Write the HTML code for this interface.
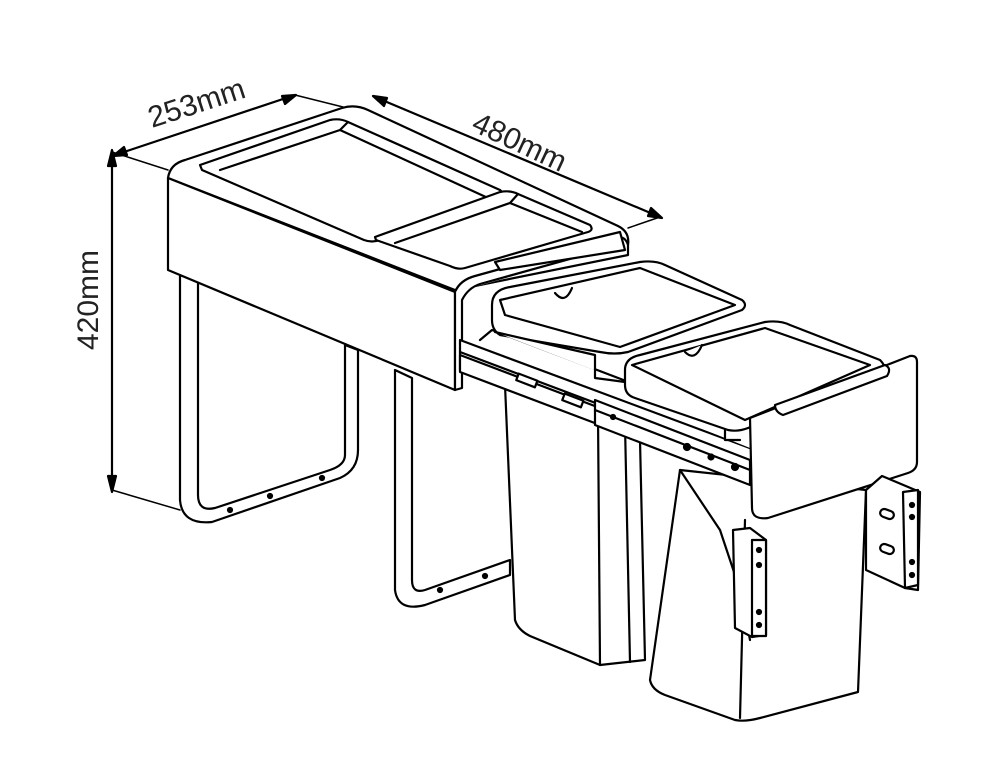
<!DOCTYPE html>
<html><head><meta charset="utf-8"><style>
html,body{margin:0;padding:0;background:#fff;}
svg{display:block;}
text{font-family:"Liberation Sans",sans-serif;fill:#222;font-size:30px;}
</style></head><body>
<svg width="997" height="768" viewBox="0 0 997 768" xmlns="http://www.w3.org/2000/svg">
<g fill="#fff" stroke="#000" stroke-width="2.2" stroke-linejoin="round" stroke-linecap="round">
<!-- dimension lines -->
<line x1="112" y1="152" x2="112" y2="490"/>
<polygon points="112,150 108,166 116,166" fill="#000"/>
<polygon points="112,492 108,476 116,476" fill="#000"/>
<line x1="112" y1="152" x2="168" y2="170" stroke-width="1.5"/>
<line x1="112" y1="490" x2="180" y2="510" stroke-width="1.5"/>
<line x1="115" y1="155" x2="295" y2="95"/>
<polygon points="296,95 282,96 285,104" fill="#000"/>
<polygon points="113,156 127,155 124,147" fill="#000"/>
<line x1="375" y1="97" x2="660" y2="217"/>
<polygon points="373,96 387,98 384,106" fill="#000"/>
<polygon points="662,218 648,216 651,208" fill="#000"/>
<line x1="295" y1="95" x2="355" y2="110" stroke-width="1.5"/>
<line x1="628" y1="228" x2="660" y2="217" stroke-width="1.5"/>

<!-- left frame -->
<path d="M180 275 L180 500 Q182 525 212 522 L340 478 Q358 470 358 450 L358 350 L345 345 L345 455 Q345 465 330 470 L215 508 Q198 512 198 495 L198 282 Z"/>
<circle cx="230" cy="510" r="2" fill="#000"/><circle cx="270" cy="496" r="2" fill="#000"/><circle cx="322" cy="478" r="2" fill="#000"/>
<!-- middle frame -->
<path d="M395 370 L395 590 Q398 612 425 605 L510 575 L510 560 L425 590 Q412 594 412 580 L412 378 Z"/>
<circle cx="440" cy="590" r="2" fill="#000"/><circle cx="485" cy="576" r="2" fill="#000"/>

<!-- top cabinet -->
<path d="M168 178 Q170 164 185 160 L342 108 Q355 104 368 110 L618 226 Q630 232 628 245 L628 255 L455 290 Z"/>
<path d="M168 178 L455 292 L455 390 L168 270 Z"/>
<path d="M455 292 Q460 280 475 276 L612 238 Q625 234 628 245"/>
<path d="M455 292 L455 390 L462 388 L462 300 Q468 288 480 284 L620 245"/>
<!-- trays -->
<path d="M200 165 L330 120 Q340 118 348 122 L500 190 Q505 194 498 197 L380 240 Q372 243 364 240 L202 170 Z"/>
<path d="M220 170 L340 130 L348 122 M340 130 L488 198"/>
<path d="M375 237 L500 192 Q510 190 518 194 L590 225 Q594 230 588 232 L465 268 Q458 270 450 266 L376 240 Z"/>
<path d="M395 243 L510 203 L518 194 M510 203 L582 232"/>
<path d="M495 262 L620 232 L625 250 L500 270 Z"/>

<!-- rails -->
<path d="M460 340 L755 450 L755 480 L460 370 Z"/>
<path d="M460 352 L755 463"/>
<path d="M480 340 L492 330 L760 432 L755 450"/>

<!-- bin 1 body -->
<path d="M505 385 L515 620 Q518 630 530 636 L600 665 L645 660 L640 440 L600 410 Z"/>
<path d="M598 415 L600 665 M625 425 L630 662"/>
<!-- bin 1 lid -->
<path d="M492 305 Q492 290 510 287 L640 262 Q655 260 665 265 L742 300 Q748 305 742 310 L628 352 Q615 355 600 352 L500 335 Q492 330 492 320 Z"/>
<path d="M500 300 L640 268 L735 305 L620 347 L505 315 Z"/>
<path d="M495 332 L595 355 L595 378 L625 382"/>
<path d="M555 293 Q565 305 572 288" />
<!-- rail segment over bin1 -->
<path d="M460 355 L600 408 L600 425 L460 372 Z"/>
<rect x="517" y="377" width="20" height="7" transform="rotate(21 527 380)"/>
<rect x="563" y="397" width="20" height="7" transform="rotate(21 573 400)"/>

<!-- bin 2 body -->
<path d="M680 470 L650 680 Q652 690 665 695 L735 720 Q745 722 760 718 L858 692 L866 490 Z"/>
<path d="M680 470 L720 530 L740 590 L750 640 M745 520 L740 718"/>
<!-- bin 2 lid -->
<path d="M625 370 Q625 358 640 355 L765 322 Q780 320 790 325 L880 360 Q888 368 880 372 L748 428 Q738 432 728 430 L635 398 Q625 395 625 385 Z"/>
<path d="M632 365 L765 328 L870 365 L745 420 Z"/>
<path d="M685 352 Q695 362 702 345"/>
<path d="M725 430 L725 440 L740 440"/>
<!-- rail front -->
<path d="M595 400 L750 460 L750 485 L595 425 Z"/>
<path d="M595 410 L750 470"/>
<circle cx="687" cy="447" r="3" fill="#000"/><circle cx="711" cy="457" r="2.5" fill="#000"/><circle cx="735" cy="467" r="3" fill="#000"/><circle cx="613" cy="417" r="2" fill="#000"/>
<!-- front panel -->
<path d="M750 418 L910 356 Q917 355 917 362 L917 462 Q917 470 908 473 L768 518 Q752 520 752 508 Z"/>
<path d="M775 405 L885 365 Q892 368 887 376 L783 415 Q775 412 775 405 Z"/>
<!-- brackets -->
<path d="M866 490 L866 570 L905 588 L918 590 L920 492 L882 476 Z"/>
<path d="M903 492 L918 490 L918 585 L905 588 Z"/>
<rect x="880" y="510" width="14" height="8" rx="4" transform="rotate(20 887 514)"/>
<rect x="880" y="545" width="14" height="8" rx="4" transform="rotate(20 887 549)"/>
<circle cx="912" cy="505" r="2" fill="#000"/><circle cx="912" cy="517" r="2" fill="#000"/><circle cx="912" cy="562" r="2" fill="#000"/><circle cx="912" cy="575" r="2" fill="#000"/>
<path d="M733 530 L750 528 L766 540 L766 635 L752 637 L735 628 Z"/>
<path d="M752 540 L766 540 L766 636 L752 636 Z"/>
<circle cx="759" cy="550" r="2" fill="#000"/><circle cx="759" cy="565" r="2" fill="#000"/><circle cx="759" cy="612" r="2" fill="#000"/><circle cx="759" cy="625" r="2" fill="#000"/>
</g>
<text transform="translate(98,350) rotate(-90)">420mm</text>
<text transform="translate(152,128) rotate(-18)">253mm</text>
<text transform="translate(470,130) rotate(25)">480mm</text>
</svg>
</body></html>
